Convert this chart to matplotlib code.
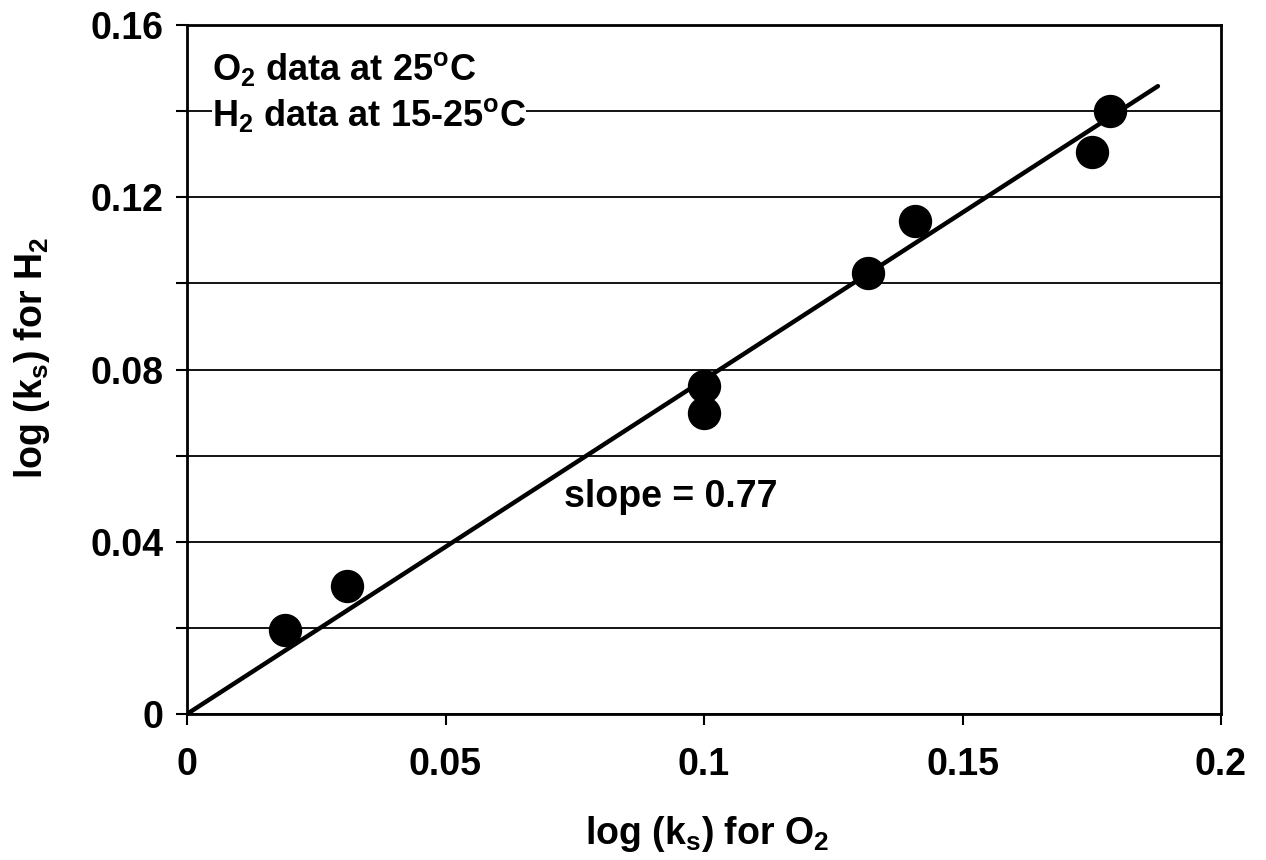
import matplotlib
matplotlib.use("Agg")
import matplotlib.pyplot as plt

plt.rcParams['font.family'] = ['Liberation Sans', 'DejaVu Sans']
plt.rcParams['font.weight'] = 'bold'
plt.rcParams['mathtext.fontset'] = 'custom'
plt.rcParams['mathtext.rm'] = 'Liberation Sans:bold'
plt.rcParams['mathtext.it'] = 'Liberation Sans:bold'
plt.rcParams['mathtext.bf'] = 'Liberation Sans:bold'
plt.rcParams['mathtext.sf'] = 'Liberation Sans:bold'

# Data
log_ks_O2 = [0.019, 0.031, 0.100, 0.100, 0.1317, 0.1408, 0.1750, 0.1785]
log_ks_H2 = [0.0195, 0.0297, 0.0762, 0.0699, 0.1024, 0.1145, 0.1305, 0.1400]

fit_x = [0.0, 0.1878]
fit_y = [0.0, 0.1458]

x_ticks = [0, 0.05, 0.1, 0.15, 0.2]
x_tick_labels = ['0', '0.05', '0.1', '0.15', '0.2']
y_ticks = [0, 0.02, 0.04, 0.06, 0.08, 0.10, 0.12, 0.14, 0.16]
y_tick_labels = ['0', '', '0.04', '', '0.08', '', '0.12', '', '0.16']

fig = plt.figure(figsize=(12.66, 8.60), dpi=100)
ax = fig.add_axes([187/1266, 1 - 714/860, (1221-187)/1266, (714-25)/860])

ax.set_xlim(0, 0.2)
ax.set_ylim(0, 0.16)
ax.set_xticks(x_ticks)
ax.set_xticklabels(x_tick_labels)
ax.set_yticks(y_ticks)
ax.set_yticklabels(y_tick_labels)

ax.grid(axis='y', color='black', linewidth=1.3, zorder=1)
ax.set_axisbelow(True)

for s in ax.spines.values():
    s.set_linewidth(2.0)
    s.set_color('black')

ax.tick_params(axis='both', direction='out', length=8, width=1.5,
               labelsize=27, colors='black')
ax.tick_params(axis='x', pad=16)
ax.tick_params(axis='y', pad=9)

ax.plot(fit_x, fit_y, color='black', linewidth=3.2, solid_capstyle='round', zorder=3)
ax.plot(log_ks_O2, log_ks_H2, linestyle='none', marker='o', markersize=23,
        color='black', zorder=4)

ax.set_xlabel(r'log (k$_\mathregular{s}$) for O$_\mathregular{2}$', fontsize=27,
              fontweight='bold')
ax.set_ylabel(r'log (k$_\mathregular{s}$) for H$_\mathregular{2}$', fontsize=27,
              fontweight='bold')
ax.xaxis.set_label_coords(0.503, -0.145)
ax.yaxis.set_label_coords(-0.131, 0.517)

ax.text(0.0935, 0.0504, 'slope = 0.77', fontsize=27, fontweight='bold',
        ha='center', va='center', zorder=5)

bb = dict(facecolor='white', edgecolor='none', pad=0)
ax.text(0.0048, 0.1472, r'O$_\mathregular{2}$ data at 25$^\mathregular{o}$C', fontsize=26,
        fontweight='bold', ha='left', va='baseline', bbox=bb, zorder=5)
ax.text(0.0048, 0.1365, r'H$_\mathregular{2}$ data at 15-25$^\mathregular{o}$C', fontsize=26,
        fontweight='bold', ha='left', va='baseline', bbox=bb, zorder=5)

fig.savefig('out.png', dpi=100, facecolor='white')
